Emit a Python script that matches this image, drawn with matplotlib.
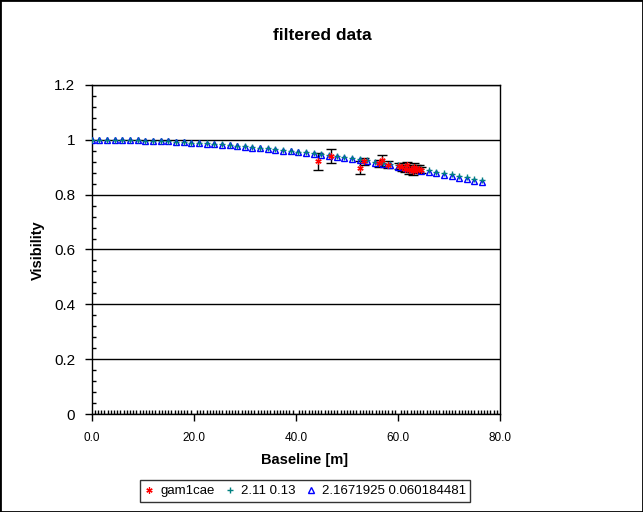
import matplotlib
matplotlib.use("Agg")
import matplotlib.pyplot as plt
from matplotlib.ticker import MultipleLocator, FuncFormatter
from matplotlib.lines import Line2D
from matplotlib.patches import Rectangle

plt.rcParams['font.family'] = ['Liberation Sans', 'DejaVu Sans']

# ---- data ----
obs_baseline = [44.3, 46.9, 52.6, 53.4, 56.3, 56.9, 58.0, 60.3, 60.8, 61.3, 61.8,
                62.2, 62.6, 62.9, 63.2, 63.5, 63.8, 64.2, 64.5]
obs_vis = [0.921, 0.940, 0.899, 0.921, 0.915, 0.925, 0.910, 0.905, 0.900, 0.895, 0.910,
           0.890, 0.895, 0.885, 0.900, 0.895, 0.890, 0.895, 0.890]
obs_err = [0.031, 0.026, 0.025, 0.012, 0.013, 0.020, 0.012, 0.012, 0.015, 0.012, 0.010,
           0.015, 0.012, 0.012, 0.015, 0.012, 0.012, 0.015, 0.010]

model_baseline = [0.0, 1.5, 3.0, 4.5, 6.0, 7.5, 9.0, 10.5, 12.0, 13.5, 15.0, 16.5, 18.0,
                  19.5, 21.0, 22.5, 24.0, 25.5, 27.0, 28.5, 30.0, 31.5, 33.0, 34.5, 36.0,
                  37.5, 39.0, 40.5, 42.0, 43.5, 45.0, 46.5, 48.0, 49.5, 51.0, 52.5, 54.0,
                  55.5, 57.0, 58.5, 60.0, 61.5, 63.0, 64.5, 66.0, 67.5, 69.0, 70.5, 72.0,
                  73.5, 75.0, 76.5]
model_211 = [1.000, 1.000, 1.000, 0.999, 0.999, 0.999, 0.998, 0.997, 0.996, 0.995, 0.994,
             0.993, 0.991, 0.990, 0.988, 0.987, 0.985, 0.983, 0.981, 0.979, 0.976, 0.974,
             0.971, 0.969, 0.966, 0.963, 0.960, 0.957, 0.954, 0.951, 0.947, 0.944, 0.940,
             0.936, 0.933, 0.929, 0.925, 0.920, 0.916, 0.912, 0.907, 0.903, 0.898, 0.894,
             0.889, 0.884, 0.879, 0.874, 0.869, 0.863, 0.858, 0.852]
model_2167 = [1.000, 1.000, 1.000, 0.999, 0.999, 0.998, 0.998, 0.997, 0.996, 0.995, 0.994,
              0.992, 0.991, 0.989, 0.988, 0.986, 0.984, 0.982, 0.980, 0.977, 0.975, 0.972,
              0.970, 0.967, 0.964, 0.961, 0.958, 0.955, 0.951, 0.948, 0.944, 0.941, 0.937,
              0.933, 0.929, 0.925, 0.921, 0.916, 0.912, 0.907, 0.902, 0.898, 0.893, 0.888,
              0.883, 0.878, 0.872, 0.867, 0.862, 0.856, 0.850, 0.845]

labels = ["gam1cae", "2.11 0.13", "2.1671925 0.060184481"]
title = "filtered data"
xlabel = "Baseline [m]"
ylabel = "Visibility"

W, H = 643, 512
fig = plt.figure(figsize=(W / 100, H / 100), dpi=100)
fig.patch.set_facecolor("white")
ax = fig.add_axes([91.7 / W, 1 - 414 / H, (500 - 91.7) / W, (414 - 85) / H])

star = (6, 2, 0)
ax.errorbar(obs_baseline, obs_vis, yerr=obs_err, fmt="none", ecolor="black",
            elinewidth=1, capsize=3.5, capthick=1, zorder=3)
ax.plot(model_baseline, model_2167, linestyle="none", marker="^", markersize=4.6,
        mfc="none", mec="#0000FF", mew=1, zorder=4)
ax.plot(model_baseline, model_211, linestyle="none", marker="+", markersize=4.5,
        color="#008080", mew=1, zorder=4.5)
ax.plot(obs_baseline, obs_vis, linestyle="none", marker=star, markersize=4.5,
        color="#FF0000", mew=0.9, zorder=5)

ax.set_xlim(0, 80)
ax.set_ylim(0, 1.2)
ax.xaxis.set_major_locator(MultipleLocator(20))
ax.xaxis.set_minor_locator(MultipleLocator(0.625))
ax.yaxis.set_major_locator(MultipleLocator(0.2))
ax.yaxis.set_minor_locator(MultipleLocator(0.04))
ax.xaxis.set_major_formatter(FuncFormatter(lambda v, p: f"{v:.1f}"))
ax.yaxis.set_major_formatter(FuncFormatter(lambda v, p: f"{v:.1f}".rstrip("0").rstrip(".") if v != 0 else "0"))

ax.tick_params(axis="both", which="major", direction="out", length=5, width=1, color="black")
ax.tick_params(axis="both", which="minor", direction="in", length=3, width=1, color="black")
ax.tick_params(axis="y", which="major", labelsize=11, pad=7)
ax.tick_params(axis="x", which="major", labelsize=8.5, pad=8)

ax.yaxis.grid(True, which="major", color="black", linewidth=1)
ax.set_axisbelow(True)
for s in ax.spines.values():
    s.set_color("black")
    s.set_linewidth(1)

fig.text(322 / W, 1 - 35 / H, title, ha="center", va="center", fontsize=12.5, fontweight="bold")
fig.text(304.5 / W, 1 - 460 / H, xlabel, ha="center", va="center", fontsize=10.5, fontweight="bold")
fig.text(38 / W, 1 - 250 / H, ylabel, ha="center", va="center", rotation=90, fontsize=10.5, fontweight="bold")

handles = [
    Line2D([], [], linestyle="none", marker=star, markersize=4.5, color="#FF0000", mew=0.9),
    Line2D([], [], linestyle="none", marker="+", markersize=4.5, color="#008080", mew=1),
    Line2D([], [], linestyle="none", marker="^", markersize=4.6, mfc="none", mec="#0000FF", mew=1),
]
leg = fig.legend(handles, labels, loc="center", bbox_to_anchor=(305 / W, 1 - 491 / H),
                 ncol=3, frameon=True, fancybox=False, edgecolor="black", fontsize=9.5,
                 handlelength=0.8, handletextpad=0.4, columnspacing=0.8, borderpad=0.35,
                 borderaxespad=0)
leg.get_frame().set_linewidth(1)

fig.add_artist(Rectangle((0, 0), 1, 1, transform=fig.transFigure,
                         fill=False, edgecolor="black", linewidth=2))

fig.savefig("out.png", dpi=100, facecolor="white")
